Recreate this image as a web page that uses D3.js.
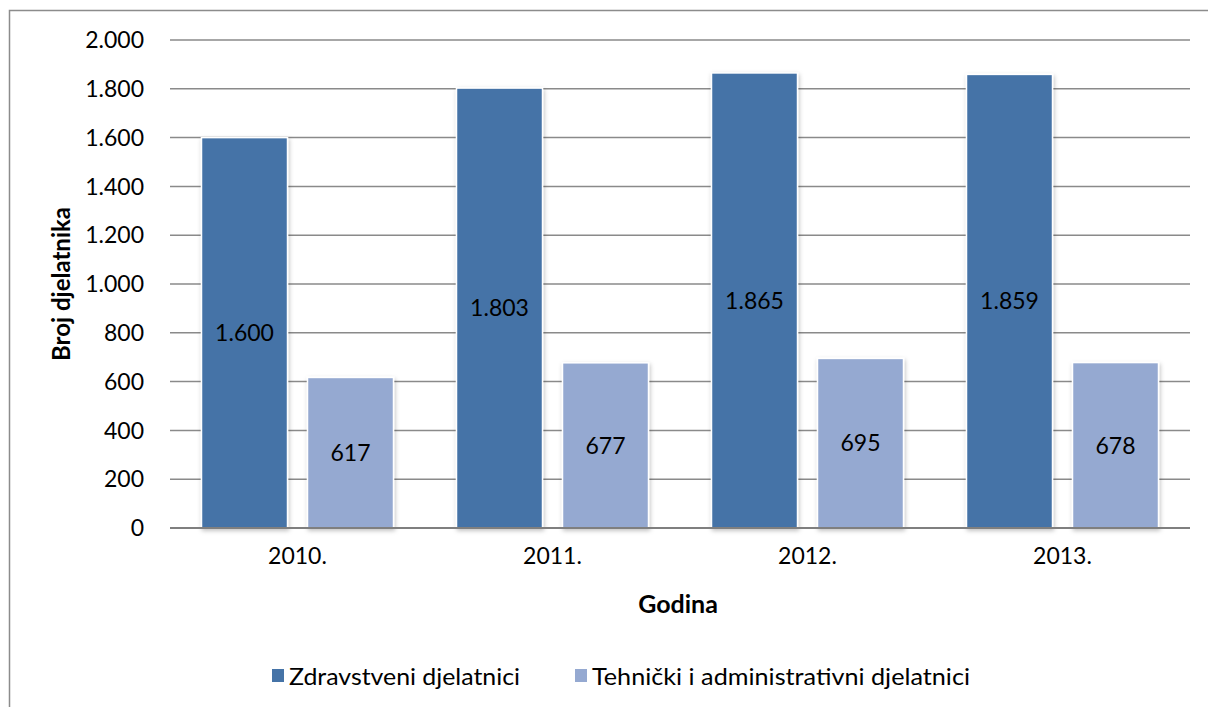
<!DOCTYPE html>
<html lang="hr">
<head>
<meta charset="utf-8">
<title>Broj djelatnika</title>
<script src="https://cdnjs.cloudflare.com/ajax/libs/d3/7.8.5/d3.min.js"></script>
<style>
  body { margin: 0; background: #fff; }
  text { font-family: Lato, "Liberation Sans", sans-serif; fill: #000; }
</style>
</head>
<body>
<div id="chart"></div>
<script>
var years = ["2010.", "2011.", "2012.", "2013."];
var zdravstveni = [1600, 1803, 1865, 1859];
var tehnicki = [617, 677, 695, 678];
var seriesNames = ["Zdravstveni djelatnici", "Tehnički i administrativni djelatnici"];
var seriesColors = ["#4573a7", "#95a9d1"];
var yTicks = [0, 200, 400, 600, 800, 1000, 1200, 1400, 1600, 1800, 2000];

var width = 1208, height = 707;
var plotLeft = 170, plotRight = 1190, plotTop = 40, plotBottom = 528;

var svg = d3.select("#chart").append("svg")
    .attr("width", width)
    .attr("height", height);

// drop shadow for the bars
var filter = svg.append("defs").append("filter")
    .attr("id", "shadow")
    .attr("x", "-20%").attr("y", "-5%")
    .attr("width", "140%").attr("height", "110%");
filter.append("feDropShadow")
    .attr("dx", 1).attr("dy", 2)
    .attr("stdDeviation", 2)
    .attr("flood-color", "#000")
    .attr("flood-opacity", 0.25);

// outer frame of the chart
svg.append("rect")
    .attr("x", 9.5).attr("y", 10.5)
    .attr("width", width).attr("height", height)
    .attr("fill", "none")
    .attr("stroke", "#8c8c8c")
    .attr("stroke-width", 1.5);

var x = d3.scaleBand().domain(years).range([plotLeft, plotRight]);
var y = d3.scaleLinear().domain([0, 2000]).range([plotBottom, plotTop]);

var fmt = function (v) { return d3.format(",")(v).replace(/,/g, "."); };

// gridlines
svg.append("g").selectAll("line")
    .data(yTicks)
    .enter().append("line")
    .attr("x1", plotLeft).attr("x2", plotRight)
    .attr("y1", function (d) { return y(d); })
    .attr("y2", function (d) { return y(d); })
    .attr("stroke", "#8a8a8a")
    .attr("stroke-width", 1.5);

// y tick labels
svg.append("g").selectAll("text")
    .data(yTicks)
    .enter().append("text")
    .attr("x", 144)
    .attr("y", function (d) { return y(d); })
    .attr("dy", "0.36em")
    .attr("text-anchor", "end")
    .attr("font-size", 23)
    .text(fmt);

// bars
var data = years.map(function (yr, i) {
  return { year: yr, values: [zdravstveni[i], tehnicki[i]] };
});

var barW = 86, gap = 20;
var groups = svg.append("g").selectAll("g")
    .data(data)
    .enter().append("g")
    .attr("transform", function (d) {
      return "translate(" + (x(d.year) + x.bandwidth() / 2) + ",0)";
    });

var bars = groups.selectAll("g")
    .data(function (d) { return d.values; })
    .enter().append("g");

bars.append("rect")
    .attr("x", function (d, i) { return i === 0 ? -gap / 2 - barW : gap / 2; })
    .attr("y", function (d) { return y(d); })
    .attr("width", barW)
    .attr("height", function (d) { return plotBottom - y(d); })
    .attr("fill", function (d, i) { return seriesColors[i]; })
    .attr("stroke", "#fff")
    .attr("stroke-width", 1.5)
    .attr("filter", "url(#shadow)");

bars.append("text")
    .attr("x", function (d, i) { return i === 0 ? -gap / 2 - barW / 2 : gap / 2 + barW / 2; })
    .attr("y", function (d) { return (y(d) + plotBottom) / 2; })
    .attr("dy", "0.36em")
    .attr("text-anchor", "middle")
    .attr("font-size", 23)
    .text(fmt);

// axis line at zero
svg.append("line")
    .attr("x1", plotLeft).attr("x2", plotRight)
    .attr("y1", y(0)).attr("y2", y(0))
    .attr("stroke", "#7f7f7f")
    .attr("stroke-width", 2);

// x labels
svg.append("g").selectAll("text")
    .data(years)
    .enter().append("text")
    .attr("x", function (d) { return x(d) + x.bandwidth() / 2; })
    .attr("y", 556)
    .attr("dy", "0.36em")
    .attr("text-anchor", "middle")
    .attr("font-size", 23)
    .text(function (d) { return d; });

// axis titles
svg.append("text")
    .attr("x", 678).attr("y", 604)
    .attr("dy", "0.36em")
    .attr("text-anchor", "middle")
    .attr("font-size", 25)
    .attr("font-weight", "bold")
    .text("Godina");

svg.append("text")
    .attr("transform", "translate(61,284) rotate(-90)")
    .attr("dy", "0.36em")
    .attr("text-anchor", "middle")
    .attr("font-size", 24)
    .attr("font-weight", "bold")
    .text("Broj djelatnika");

// legend
var legendX = [272, 575];
var legendW = [231, 378];
var legend = svg.append("g").selectAll("g")
    .data(seriesNames)
    .enter().append("g")
    .attr("transform", function (d, i) { return "translate(" + legendX[i] + ",676)"; });

legend.append("rect")
    .attr("x", 0).attr("y", -7)
    .attr("width", 12).attr("height", 13)
    .attr("fill", function (d, i) { return seriesColors[i]; });

legend.append("text")
    .attr("x", 17)
    .attr("dy", "0.36em")
    .attr("font-size", 24)
    .attr("textLength", function (d, i) { return legendW[i]; })
    .attr("lengthAdjust", "spacingAndGlyphs")
    .text(function (d) { return d; });
</script>
</body>
</html>
